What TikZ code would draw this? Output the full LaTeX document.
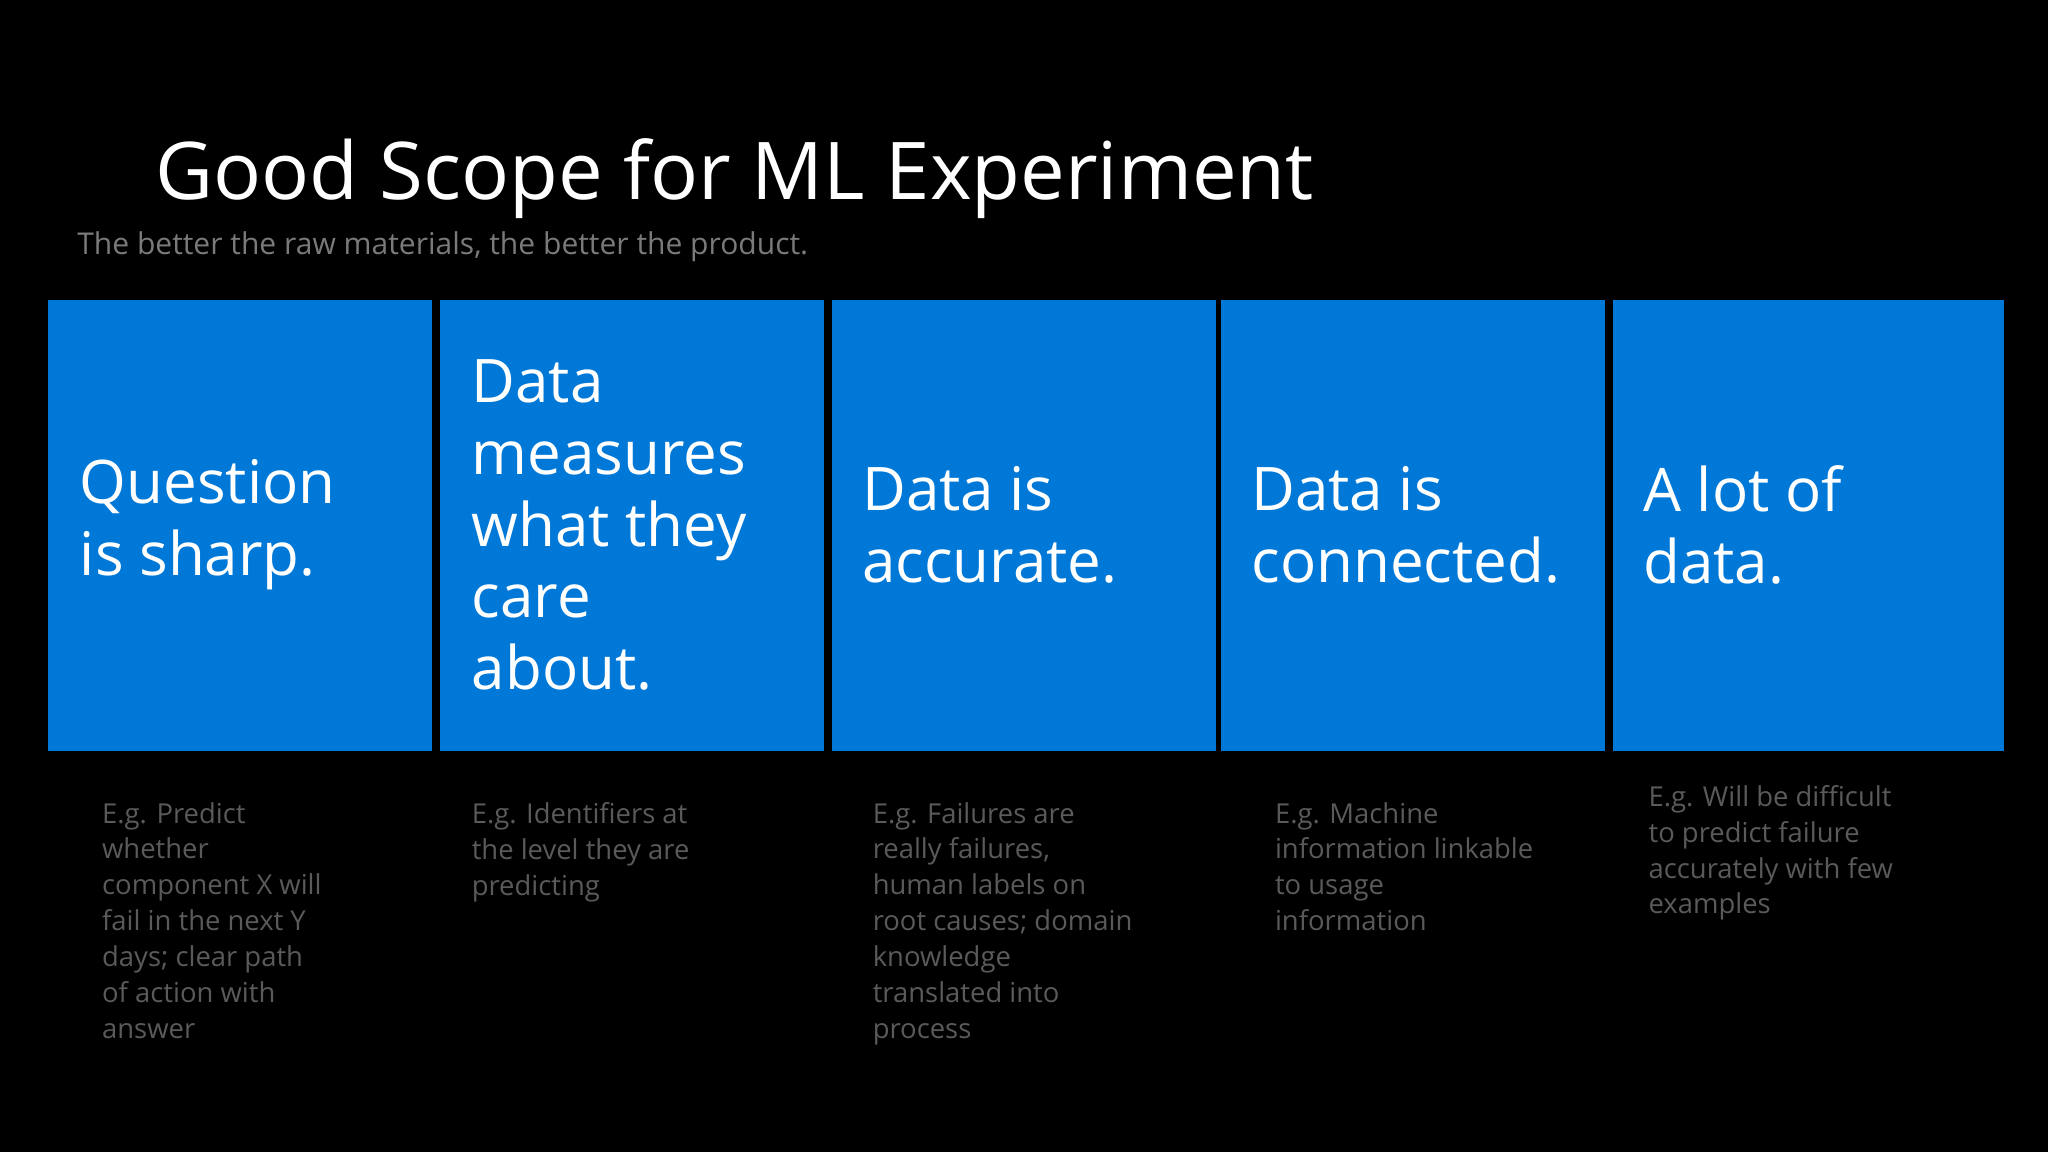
\documentclass[tikz,border=0pt]{standalone}
\usepackage{fontspec}
\setmainfont{Open Sans}
\definecolor{tile}{HTML}{0078D7}
\definecolor{note}{HTML}{5A5A5A}
\definecolor{sub}{HTML}{7A7A7A}
\begin{document}
\begin{tikzpicture}[x=1pt,y=-1pt,
  tilebox/.style={fill=tile,draw=none},
  tiletext/.style={anchor=west,align=left,text=white,font=\fontsize{46}{55}\selectfont,inner sep=0pt},
  notetext/.style={anchor=north west,align=left,text=note,font=\fontsize{21}{27.5}\selectfont,inner sep=0pt}]
\useasboundingbox[fill=black] (0,0) rectangle (1568,882);
\node[anchor=base west,text=white,font=\fontsize{61}{70}\selectfont,inner sep=0pt] (title) at (119,153) {Good Scope for ML Experiment};
\node[anchor=base west,text=sub,font=\fontsize{23}{28}\selectfont,inner sep=0pt] (subtitle) at (59,195) {The better the raw materials, the better the product.};
\fill[tilebox] (37,230) rectangle (331,575) coordinate (t1);
\fill[tilebox] (337,230) rectangle (631,575) coordinate (t2);
\fill[tilebox] (637,230) rectangle (931,575) coordinate (t3);
\fill[tilebox] (935,230) rectangle (1229,575) coordinate (t4);
\fill[tilebox] (1235,230) rectangle (1534,575) coordinate (t5);
\node[tiletext] (q1) at (61,402) {Question\\is sharp.};
\node[tiletext] (q2) at (361,402) {Data\\measures\\what they\\care\\about.};
\node[tiletext] (q3) at (660,402) {Data is\\accurate.};
\node[tiletext] (q4) at (958,402) {Data is\\connected.};
\node[tiletext] (q5) at (1258,402) {A lot of\\data.};
\node[notetext] (n1) at (78,614) {E.g. Predict\\whether\\component X will\\fail in the next Y\\days; clear path\\of action with\\answer};
\node[notetext] (n2) at (361,614) {E.g. Identifiers at\\the level they are\\predicting};
\node[notetext] (n3) at (668,614) {E.g. Failures are\\really failures,\\human labels on\\root causes; domain\\knowledge\\translated into\\process};
\node[notetext] (n4) at (976,614) {E.g. Machine\\information linkable\\to usage\\information};
\node[notetext] (n5) at (1262,601) {E.g. Will be difficult\\to predict failure\\accurately with few\\examples};
\end{tikzpicture}
\end{document}
